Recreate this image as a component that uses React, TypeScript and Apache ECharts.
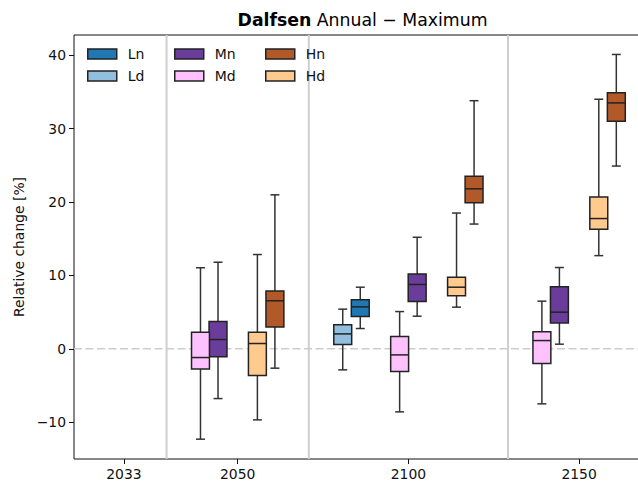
import React, { useEffect, useRef } from "react";
import * as echarts from "echarts";

const FONT = "DejaVu Sans";

// Time horizons shown along the x axis
const years = ["2033", "2050", "2100", "2150"];

// Box statistics per horizon: [min, q1, median, q3, max] (null = not available)
const lnStats = [null, null, [2.77, 4.4, 5.72, 6.68, 8.4], null];
const ldStats = [null, null, [-2.86, 0.59, 2.04, 3.27, 5.41], null];
const mnStats = [null, [-6.77, -1.09, 1.27, 3.72, 11.8], [4.45, 6.45, 8.77, 10.2, 15.2], [0.64, 3.54, 5.0, 8.45, 11.08]];
const mdStats = [null, [-12.3, -2.75, -1.18, 2.27, 11.05], [-8.58, -3.09, -0.82, 1.68, 5.08], [-7.49, -2.0, 1.13, 2.32, 6.5]];
const hnStats = [null, [-2.63, 2.98, 6.55, 7.88, 20.98], [17.0, 19.9, 21.8, 23.5, 33.8], [24.9, 31.0, 33.5, 34.9, 40.1]];
const hdStats = [null, [-9.67, -3.63, 0.73, 2.25, 12.85], [5.68, 7.22, 8.4, 9.77, 18.5], [12.7, 16.3, 17.75, 20.7, 34.0]];

const yTicks = [-10, 0, 10, 20, 30, 40];

const scenarios = [
  { name: "Ln", level: "L", kind: "n", color: "#1f78b4", stats: lnStats },
  { name: "Ld", level: "L", kind: "d", color: "#92bfdf", stats: ldStats },
  { name: "Mn", level: "M", kind: "n", color: "#6a3d9a", stats: mnStats },
  { name: "Md", level: "M", kind: "d", color: "#fdc2fd", stats: mdStats },
  { name: "Hn", level: "H", kind: "n", color: "#b15928", stats: hnStats },
  { name: "Hd", level: "H", kind: "d", color: "#ffca8e", stats: hdStats },
];

const LEVELS = ["L", "M", "H"];
const BOX_W = 0.315;
const PAIR_OFF = 0.154;
const GROUP_PAD = 0.5;
const START = 0.25;
const MARGIN = 0.127;
const PX_PER_UNIT = 56.9;
const CANVAS_W = 680;

// Lay out groups: each horizon gets one unit per scenario pair present (min 1)
const groupCenters: number[] = [];
const boundaries: number[] = [];
const pairCenter: Record<string, number>[] = [];
let cursor = START;
years.forEach((_, i) => {
  const present = LEVELS.filter((l) => scenarios.some((s) => s.level === l && s.stats[i]));
  const span = Math.max(present.length, 1) + GROUP_PAD;
  const center = cursor + span / 2;
  groupCenters.push(center);
  const pc: Record<string, number> = {};
  present.forEach((l, k) => {
    pc[l] = center + k - (present.length - 1) / 2;
  });
  pairCenter.push(pc);
  cursor += span;
  if (i < years.length - 1) boundaries.push(cursor);
});
const xMin = START - MARGIN;
const xMax = cursor + MARGIN;

export default function App() {
  const ref = useRef<HTMLDivElement>(null);

  useEffect(() => {
    if (!ref.current) return;
    const chart = echarts.init(ref.current, null, { renderer: "svg" });

    const boxSeries = scenarios.map((s) => {
      const data: number[][] = [];
      s.stats.forEach((st, i) => {
        if (!st) return;
        const x = pairCenter[i][s.level] + (s.kind === "d" ? -PAIR_OFF : PAIR_OFF);
        data.push([x, ...st]);
      });
      return {
        name: s.name,
        type: "custom",
        z: 3,
        itemStyle: { color: s.color, borderColor: "#222", borderWidth: 1.5 },
        encode: { x: 0, y: [1, 2, 3, 4, 5] },
        data,
        renderItem: (params: any, api: any) => {
          const x = api.value(0);
          const pMin = api.coord([x, api.value(1)]);
          const pQ1 = api.coord([x, api.value(2)]);
          const pMed = api.coord([x, api.value(3)]);
          const pQ3 = api.coord([x, api.value(4)]);
          const pMax = api.coord([x, api.value(5)]);
          const w = api.size([BOX_W, 0])[0];
          const cx = pMin[0];
          const ln = { stroke: "#333", lineWidth: 1.5 };
          return {
            type: "group",
            children: [
              { type: "line", shape: { x1: cx, y1: pMin[1], x2: cx, y2: pQ1[1] }, style: ln },
              { type: "line", shape: { x1: cx, y1: pQ3[1], x2: cx, y2: pMax[1] }, style: ln },
              { type: "line", shape: { x1: cx - w / 4, y1: pMin[1], x2: cx + w / 4, y2: pMin[1] }, style: ln },
              { type: "line", shape: { x1: cx - w / 4, y1: pMax[1], x2: cx + w / 4, y2: pMax[1] }, style: ln },
              {
                type: "rect",
                shape: { x: cx - w / 2, y: pQ3[1], width: w, height: pQ1[1] - pQ3[1] },
                style: { fill: s.color, stroke: "#222", lineWidth: 1.5 },
              },
              {
                type: "line",
                shape: { x1: cx - w / 2, y1: pMed[1], x2: cx + w / 2, y2: pMed[1] },
                style: { stroke: "#222", lineWidth: 1.5 },
              },
            ],
          };
        },
      };
    });

    // Group separators and the zero reference line
    const guideSeries = {
      type: "custom",
      z: 1,
      silent: true,
      data: [...boundaries.map((b) => [0, b]), [1, 0]],
      renderItem: (params: any, api: any) => {
        const kind = api.value(0);
        const v = api.value(1);
        if (kind === 0) {
          const a = api.coord([v, 42.75]);
          const b = api.coord([v, -15]);
          return {
            type: "line",
            shape: { x1: a[0], y1: a[1], x2: b[0], y2: b[1] },
            style: { stroke: "#cfcfcf", lineWidth: 2 },
          };
        }
        const a = api.coord([xMin, v]);
        const b = api.coord([xMax, v]);
        return {
          type: "line",
          shape: { x1: a[0], y1: a[1], x2: b[0], y2: b[1] },
          style: { stroke: "#cccccc", lineWidth: 1.5, lineDash: [8, 3.5] },
        };
      },
    };

    const legendBase = {
      orient: "vertical",
      icon: "rect",
      padding: 0,
      itemWidth: 29,
      itemHeight: 10,
      itemGap: 8,
      selectedMode: false,
      itemStyle: { borderColor: "#222", borderWidth: 1.5 },
      textStyle: { fontFamily: FONT, fontSize: 14, color: "#111", padding: [0, 0, 0, 6] },
      top: 47,
    };

    chart.setOption({
      animation: false,
      backgroundColor: "#fff",
      textStyle: { fontFamily: FONT },
      grid: {
        left: 74,
        top: 35,
        bottom: 22,
        right: CANVAS_W - 74 - (xMax - xMin) * PX_PER_UNIT,
        show: true,
        borderColor: "#111",
        borderWidth: 1,
        backgroundColor: "transparent",
      },
      graphic: [
        {
          type: "text",
          x: 362.5,
          y: 20,
          style: {
            text: "{b|Dalfsen} Annual − Maximum",
            fontFamily: FONT,
            fontSize: 17.3,
            fill: "#000",
            align: "center",
            verticalAlign: "middle",
            rich: { b: { fontFamily: FONT, fontSize: 17.3, fontWeight: "bold", fill: "#000" } },
          },
        },
      ],
      legend: [
        { ...legendBase, left: 87, data: ["Ln", "Ld"] },
        { ...legendBase, left: 174, data: ["Mn", "Md"] },
        { ...legendBase, left: 265, data: ["Hn", "Hd"] },
      ],
      xAxis: {
        type: "value",
        min: xMin,
        max: xMax,
        axisLine: { show: false, onZero: false },
        splitLine: { show: false },
        axisTick: {
          show: true,
          customValues: groupCenters,
          length: 5,
          lineStyle: { color: "#111", width: 1 },
        },
        axisLabel: {
          customValues: groupCenters,
          margin: 8,
          fontFamily: FONT,
          fontSize: 13.9,
          color: "#111",
          formatter: (v: number) => {
            let best = 0;
            groupCenters.forEach((c, i) => {
              if (Math.abs(c - v) < Math.abs(groupCenters[best] - v)) best = i;
            });
            return years[best];
          },
        },
      },
      yAxis: {
        type: "value",
        min: -15,
        max: 42.75,
        name: "Relative change [%]",
        nameLocation: "middle",
        nameGap: 47,
        nameTextStyle: { fontFamily: FONT, fontSize: 13.9, color: "#111" },
        axisLine: { show: false, onZero: false },
        splitLine: { show: false },
        axisTick: {
          show: true,
          customValues: yTicks,
          length: 5,
          lineStyle: { color: "#111", width: 1 },
        },
        axisLabel: {
          customValues: yTicks,
          margin: 8,
          fontFamily: FONT,
          fontSize: 13.9,
          color: "#111",
          formatter: (v: number) => String(v).replace("-", "\u2212"),
        },
      },
      series: [guideSeries, ...boxSeries],
    });

    return () => chart.dispose();
  }, []);

  return (
    <div
      style={{
        position: "fixed",
        left: 0,
        top: 0,
        width: 638,
        height: 481,
        overflow: "hidden",
        background: "#fff",
      }}
    >
      <div ref={ref} style={{ width: CANVAS_W, height: 481 }} />
    </div>
  );
}
